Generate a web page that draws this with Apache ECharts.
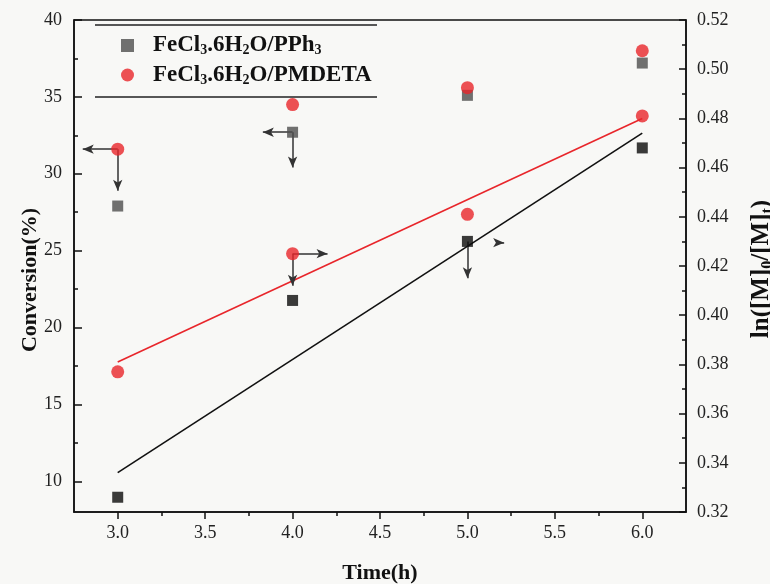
<!DOCTYPE html>
<html>
<head>
<meta charset="utf-8">
<script src="https://cdn.jsdelivr.net/npm/echarts@6/dist/echarts.min.js"></script>
<style>
html,body{margin:0;padding:0;background:#f8f8f6;}
#chart{width:770px;height:584px;}
</style>
</head>
<body>
<div id="chart"></div>
<script>
// ---- data ----
const timeH = [3, 4, 5, 6];
const convPPh3 = [27.9, 32.7, 35.1, 37.2];
const convPMDETA = [31.6, 34.5, 35.6, 38.0];
const lnPPh3 = [0.326, 0.406, 0.430, 0.468];
const lnPMDETA = [0.377, 0.425, 0.441, 0.481];
const fitX = [3, 6];
const fitPPh3 = [0.336, 0.474];
const fitPMDETA = [0.381, 0.480];
const xMajorTicks = [3.0, 3.5, 4.0, 4.5, 5.0, 5.5, 6.0];
const xMinorTicks = [3.25, 3.75, 4.25, 4.75, 5.25, 5.75];
const leftMajorTicks = [10, 15, 20, 25, 30, 35, 40];
const leftMinorTicks = [12.5, 17.5, 22.5, 27.5, 32.5, 37.5];
// annotation arrows: [x1, y1, x2, y2]
const convArrows = [[3, 31.6, 2.8, 31.6], [3, 31.6, 3, 28.9], [4, 32.7, 3.83, 32.7], [4, 32.7, 4, 30.4]];
const lnArrows = [[4, 0.425, 4.2, 0.425], [4, 0.425, 4, 0.412], [5, 0.430, 5, 0.415], [5.17, 0.4295, 5.21, 0.4295]];
const nameA = 'FeCl3.6H2O/PPh3';
const nameB = 'FeCl3.6H2O/PMDETA';

const SERIF = '"Liberation Serif", "Times New Roman", serif';
const RED = '#e8262b';
const axisLineStyle = {color: '#111', width: 1.5};
const tickLabel = {fontFamily: SERIF, fontSize: 18, color: '#222'};
const titleStyle = {fontFamily: SERIF, fontSize: 22, fontWeight: 'bold', color: '#111'};
const subStyle = {fontFamily: SERIF, fontSize: 14, fontWeight: 'bold', color: '#111', padding: [10, 0, 0, 0]};
const subStyleBig = {fontFamily: SERIF, fontSize: 16, fontWeight: 'bold', color: '#111', padding: [12, 0, 0, 0]};

function pairs(xs, ys) { return xs.map((x, i) => [x, ys[i]]); }
function arrowData(list) {
  return list.map(a => [{coord: [a[0], a[1]]}, {coord: [a[2], a[3]]}]);
}

const chart = echarts.init(document.getElementById('chart'));
chart.setOption({
  animation: false,
  backgroundColor: '#f8f8f6',
  grid: {left: 74, right: 84, top: 20, bottom: 72, outerBoundsMode: 'none', containLabel: false,
    show: true, borderColor: '#111', borderWidth: 1.5, backgroundColor: 'transparent'},
  legend: {
    data: [{name: nameA, icon: 'rect'}, {name: nameB, icon: 'circle'}],
    orient: 'vertical',
    left: 116,
    top: 29,
    itemWidth: 13,
    itemHeight: 13,
    itemGap: 6,
    formatter: function (n) {
      return n === nameA ? 'FeCl{s|3}.6H{s|2}O/PPh{s|3}' : 'FeCl{s|3}.6H{s|2}O/PMDETA';
    },
    textStyle: Object.assign({}, titleStyle, {fontSize: 23, padding: [0, 0, 0, 14], rich: {s: subStyle}})
  },
  graphic: [
    {type: 'line', shape: {x1: 95, y1: 25, x2: 377, y2: 25}, style: {stroke: '#222', lineWidth: 1.5}, z: 10},
    {type: 'line', shape: {x1: 95, y1: 97, x2: 377, y2: 97}, style: {stroke: '#222', lineWidth: 1.5}, z: 10}
  ],
  xAxis: [
    {
      type: 'value', min: 2.75, max: 6.25, position: 'bottom',
      axisLine: {show: true, lineStyle: axisLineStyle},
      axisTick: {show: true, length: 7, customValues: xMajorTicks, lineStyle: axisLineStyle},
      axisLabel: Object.assign({customValues: xMajorTicks, margin: 12, formatter: v => v.toFixed(1)}, tickLabel),
      splitLine: {show: false},
      name: 'Time(h)', nameLocation: 'middle', nameGap: 50, nameMoveOverlap: false, nameTextStyle: titleStyle
    },
    {
      type: 'value', min: 2.75, max: 6.25, position: 'bottom',
      axisLine: {show: false},
      axisTick: {show: true, length: 4, customValues: xMinorTicks, lineStyle: axisLineStyle},
      axisLabel: {show: false},
      splitLine: {show: false}
    }
  ],
  yAxis: [
    {
      type: 'value', min: 8, max: 40, position: 'left',
      axisLine: {show: true, lineStyle: axisLineStyle},
      axisTick: {show: true, inside: true, length: 8, customValues: leftMajorTicks, lineStyle: axisLineStyle},
      axisLabel: Object.assign({customValues: leftMajorTicks, margin: 12}, tickLabel),
      splitLine: {show: false},
      name: 'Conversion(%)', nameLocation: 'middle', nameRotate: 90, nameGap: 33, nameMoveOverlap: false,
      nameTextStyle: Object.assign({}, titleStyle, {padding: [0, 28, 0, 0]})
    },
    {
      type: 'value', min: 0.32, max: 0.52, interval: 0.02, position: 'right',
      axisLine: {show: true, lineStyle: axisLineStyle},
      axisTick: {show: true, inside: true, length: 7, lineStyle: axisLineStyle},
      minorTick: {show: true, splitNumber: 2, length: 4, lineStyle: axisLineStyle},
      axisLabel: Object.assign({margin: 11, formatter: v => v.toFixed(2)}, tickLabel),
      splitLine: {show: false},
      name: 'ln([M]{s|0}/[M]{s|t})', nameLocation: 'middle', nameRotate: 90, nameGap: 62, nameMoveOverlap: false,
      nameTextStyle: Object.assign({}, titleStyle, {fontSize: 25, padding: [0, 6, 0, 0], rich: {s: subStyleBig}})
    },
    {
      type: 'value', min: 8, max: 40, position: 'left',
      axisLine: {show: false},
      axisTick: {show: true, inside: true, length: 4, customValues: leftMinorTicks, lineStyle: axisLineStyle},
      axisLabel: {show: false},
      splitLine: {show: false}
    }
  ],
  series: [
    {
      name: 'fit PPh3', type: 'line', yAxisIndex: 1, data: pairs(fitX, fitPPh3),
      showSymbol: false, lineStyle: {color: '#111', width: 1.6}, z: 1, silent: true
    },
    {
      name: 'fit PMDETA', type: 'line', yAxisIndex: 1, data: pairs(fitX, fitPMDETA),
      showSymbol: false, lineStyle: {color: RED, width: 1.6}, z: 1, silent: true
    },
    {
      name: 'arrows conv', type: 'scatter', yAxisIndex: 0, data: [], z: 1,
      markLine: {silent: true, symbol: ['none', 'arrow'], symbolSize: [7, 11], label: {show: false},
        lineStyle: {color: '#333', width: 1.5, type: 'solid'}, data: arrowData(convArrows)}
    },
    {
      name: 'arrows ln', type: 'scatter', yAxisIndex: 1, data: [], z: 1,
      markLine: {silent: true, symbol: ['none', 'arrow'], symbolSize: [7, 11], label: {show: false},
        lineStyle: {color: '#333', width: 1.5, type: 'solid'}, data: arrowData(lnArrows)}
    },
    {
      name: nameA, type: 'scatter', yAxisIndex: 0, data: pairs(timeH, convPPh3),
      symbol: 'rect', symbolSize: 11, itemStyle: {color: '#4d4d4d'}, z: 5
    },
    {
      name: nameB, type: 'scatter', yAxisIndex: 0, data: pairs(timeH, convPMDETA),
      symbol: 'circle', symbolSize: 13, itemStyle: {color: RED}, z: 5
    },
    {
      name: 'ln PPh3', type: 'scatter', yAxisIndex: 1, data: pairs(timeH, lnPPh3),
      symbol: 'rect', symbolSize: 11, itemStyle: {color: '#0a0a0a'}, z: 5
    },
    {
      name: 'ln PMDETA', type: 'scatter', yAxisIndex: 1, data: pairs(timeH, lnPMDETA),
      symbol: 'circle', symbolSize: 13, itemStyle: {color: RED}, z: 5
    }
  ]
});
</script>
</body>
</html>
